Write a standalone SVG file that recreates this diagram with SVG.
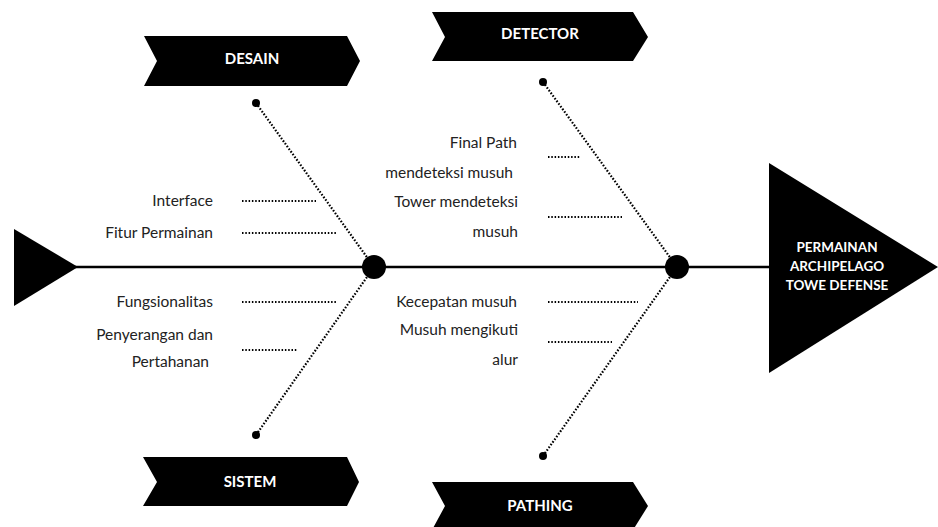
<svg xmlns="http://www.w3.org/2000/svg" width="938" height="527" viewBox="0 0 938 527">
<style>
.shape{fill:#000}
.head{font-family:"Lato","Open Sans",sans-serif;font-weight:bold;font-size:15px;fill:#fff;text-anchor:middle}
.title{font-family:"Lato","Open Sans",sans-serif;font-weight:bold;font-size:13.5px;fill:#fff;text-anchor:middle}
.lbl{font-family:"Lato","Open Sans",sans-serif;font-size:15.5px;fill:#222;text-anchor:end}
.dot{stroke:#000;stroke-width:2;stroke-dasharray:1.5 1.8;fill:none}
.diag{stroke:#000;stroke-width:2.2;stroke-dasharray:1.6 1.7;fill:none}
.spine{stroke:#000;stroke-width:2.5;fill:none}
</style>
<rect width="938" height="527" fill="#fff"/>
<g id="connectors">
<line class="spine" x1="70" y1="267" x2="775" y2="267"/>
<line class="diag" x1="256" y1="103" x2="374" y2="267"/>
<line class="diag" x1="256" y1="435" x2="374" y2="267"/>
<line class="diag" x1="543" y1="82" x2="677" y2="267"/>
<line class="diag" x1="543" y1="456" x2="677" y2="267"/>
<line class="dot" x1="242" y1="201" x2="316" y2="201"/>
<line class="dot" x1="242" y1="233" x2="337" y2="233"/>
<line class="dot" x1="242" y1="302" x2="337" y2="302"/>
<line class="dot" x1="242" y1="350" x2="298" y2="350"/>
<line class="dot" x1="548" y1="157" x2="581" y2="157"/>
<line class="dot" x1="548" y1="217" x2="622" y2="217"/>
<line class="dot" x1="548" y1="302" x2="638" y2="302"/>
<line class="dot" x1="548" y1="342" x2="612" y2="342"/>
<circle class="shape" cx="256" cy="103" r="4"/>
<circle class="shape" cx="256" cy="435" r="4"/>
<circle class="shape" cx="543" cy="82" r="4"/>
<circle class="shape" cx="543" cy="456" r="4"/>
<circle class="shape" cx="374" cy="267" r="12"/>
<circle class="shape" cx="677" cy="267" r="12"/>
</g>
<g id="tail">
<polygon class="shape" points="14,229 78,267 14,306"/>
</g>
<g id="head">
<polygon class="shape" points="769,163 938,267 769,373"/>
<text class="title" x="837" y="252">PERMAINAN</text>
<text class="title" x="837" y="271">ARCHIPELAGO</text>
<text class="title" x="837" y="290">TOWE DEFENSE</text>
</g>
<g id="desain">
<polygon class="shape" points="144,36 347,36 360,61 347,86 144,86 157,61"/>
<text class="head" x="252" y="64">DESAIN</text>
</g>
<g id="detector">
<polygon class="shape" points="432,12 633,12 648,37 633,61 432,61 445,37"/>
<text class="head" x="540" y="39">DETECTOR</text>
</g>
<g id="sistem">
<polygon class="shape" points="143,457 347,457 359,482 347,506 143,506 157,482"/>
<text class="head" x="250" y="487">SISTEM</text>
</g>
<g id="pathing">
<polygon class="shape" points="432,482 633,482 648,506 633,530 432,530 445,506"/>
<text class="head" x="540" y="511">PATHING</text>
</g>
<g id="labels">
<text class="lbl" x="213" y="206">Interface</text>
<text class="lbl" x="213" y="238">Fitur Permainan</text>
<text class="lbl" x="213" y="307">Fungsionalitas</text>
<text class="lbl" x="213" y="340">Penyerangan dan</text>
<text class="lbl" x="209" y="367">Pertahanan</text>
<text class="lbl" x="517" y="148">Final Path</text>
<text class="lbl" x="513" y="178">mendeteksi musuh</text>
<text class="lbl" x="518" y="207">Tower mendeteksi</text>
<text class="lbl" x="518" y="237">musuh</text>
<text class="lbl" x="517" y="307">Kecepatan musuh</text>
<text class="lbl" x="518" y="335">Musuh mengikuti</text>
<text class="lbl" x="518" y="365">alur</text>
</g>
</svg>
